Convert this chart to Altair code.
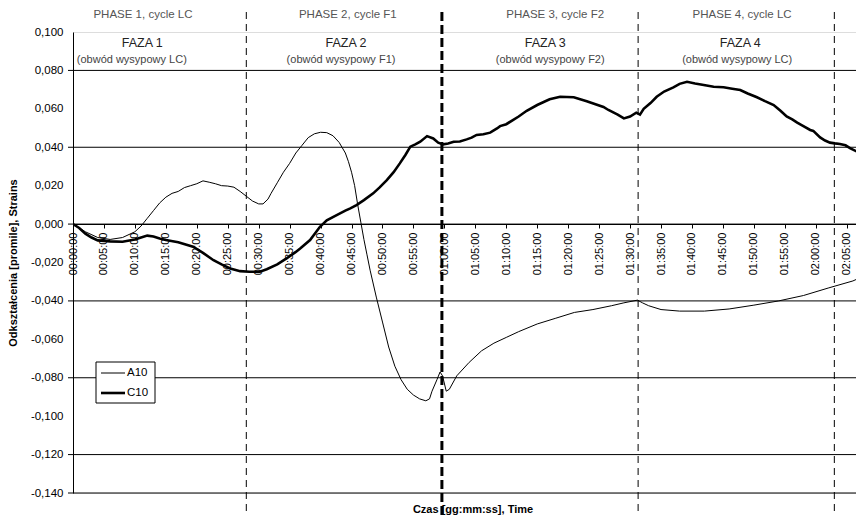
import altair as alt
import pandas as pd

# ---------------- data ----------------
a10_t = [0, 2, 4, 6, 8, 10, 11, 12, 13, 14, 15, 16, 17, 18, 19, 20, 21, 22, 23, 24, 25, 26, 27, 28, 29, 30,
         30.7, 31.5, 32, 33, 34, 35, 36, 37, 38, 39, 40, 41, 42, 43, 44, 44.5, 45, 45.5, 46, 46.5, 47, 47.5, 48,
         49, 50, 51, 52, 53, 54, 55, 56, 57, 57.6, 58, 58.8, 59.3, 59.7, 60.3, 60.8, 62, 64, 66, 68, 70, 72,
         75, 78, 81, 84, 87, 89, 91.2, 92, 93, 95, 98, 102, 106, 110, 114, 118, 122, 126, 127.8]
a10_v = [0, -0.004, -0.007, -0.008, -0.007, -0.004, -0.001, 0.003, 0.007, 0.011, 0.014, 0.016, 0.017, 0.019,
         0.020, 0.021, 0.0225, 0.0218, 0.021, 0.020, 0.0198, 0.0192, 0.017, 0.0145, 0.012, 0.0105,
         0.0105, 0.013, 0.016, 0.0215, 0.027, 0.0316, 0.037, 0.041, 0.045, 0.047, 0.0478, 0.0476, 0.046, 0.0425,
         0.037, 0.0325, 0.027, 0.02, 0.01, 0.001, -0.008, -0.016, -0.024,
         -0.038, -0.051, -0.064, -0.074, -0.081, -0.086, -0.089, -0.091, -0.092, -0.091, -0.087, -0.081, -0.077,
         -0.079, -0.087, -0.086, -0.079, -0.072, -0.066, -0.062, -0.059, -0.056,
         -0.052, -0.049, -0.046, -0.0445, -0.0425, -0.041, -0.0396, -0.041, -0.0425, -0.0445, -0.0453,
         -0.0453, -0.0442, -0.0422, -0.040, -0.0372, -0.0333, -0.0296, -0.027]

c10_t = [0, 1, 2, 3, 4, 6, 8, 10, 11, 12, 13, 14, 15, 17, 19.4, 21, 22.7, 24, 25.4, 27, 28.5, 30.2, 31.3, 33,
         34.5, 36, 36.7, 38.3, 39.9, 41, 42.6, 44, 44.8, 45.8, 47, 48.5, 49.5, 50.7, 51.8, 52.8, 53.7, 54.5,
         55.3, 56.1, 57.2, 58.2, 59, 59.8, 60.6, 61.5, 62.5, 63.6, 64.4, 65.2, 66.3, 67.4, 68.5, 69, 70, 71, 72,
         73.3, 75, 77, 78.7, 80.9, 83, 85.7, 86.5, 88, 89, 90, 91, 91.6, 92.2, 93.3, 94.3, 95.5, 97, 98, 99.2,
         100.5, 101.9, 103.5, 105.1, 106.5, 107.8, 109, 110.5, 111.8, 113.2, 114.3, 115.3, 116.2, 117, 118,
         119.1, 119.6, 120.7, 121.5, 122.3, 123.1, 123.9, 124.8, 125.6, 126.5, 127.7]
c10_v = [0, -0.002, -0.005, -0.007, -0.0085, -0.009, -0.0092, -0.008, -0.007, -0.006, -0.0065, -0.0075,
         -0.0083, -0.0095, -0.0118, -0.015, -0.0188, -0.021, -0.0231, -0.0245, -0.0248, -0.0248, -0.0235,
         -0.021, -0.0179, -0.0145, -0.0127, -0.0083, -0.0014, 0.002, 0.0047, 0.007, 0.0082, 0.0099, 0.0125,
         0.016, 0.019, 0.0229, 0.027, 0.0316, 0.036, 0.0403, 0.0415, 0.0429, 0.0458, 0.0446, 0.0424, 0.0415,
         0.042, 0.0429, 0.043, 0.0441, 0.045, 0.0464, 0.0468, 0.0476, 0.0498, 0.051, 0.052, 0.054, 0.056,
         0.059, 0.062, 0.065, 0.0663, 0.066, 0.064, 0.061, 0.0594, 0.057, 0.055, 0.056, 0.058, 0.057, 0.060,
         0.063, 0.0663, 0.069, 0.0712, 0.073, 0.0741, 0.0732, 0.0724, 0.0715, 0.0712, 0.0705, 0.0698, 0.068,
         0.066, 0.064, 0.062, 0.059, 0.056, 0.0545, 0.0528, 0.051, 0.049, 0.0485, 0.0451, 0.0435, 0.0424,
         0.042, 0.0417, 0.041, 0.0394, 0.038, 0.0368]

series_names = ["A10", "C10"]
series_widths = [1.0, 2.6]

y_ticks = [0.1, 0.08, 0.06, 0.04, 0.02, 0.0, -0.02, -0.04, -0.06, -0.08, -0.1, -0.12, -0.14]
x_ticks = [0, 5, 10, 15, 20, 25, 30, 35, 40, 45, 50, 55, 60, 65, 70, 75, 80, 85, 90, 95, 100, 105, 110, 115,
           120, 125]
grid_values = [0.08, 0.04, 0.0, -0.04, -0.08, -0.12, -0.14]

phase_bounds_thin = [28, 91.3, 123]
phase_bounds_thick = [59.6]

phase_header = ["PHASE 1, cycle LC", "PHASE 2, cycle F1", "PHASE 3, cycle F2", "PHASE 4, cycle LC"]
phase_name = ["FAZA 1", "FAZA 2", "FAZA 3", "FAZA 4"]
phase_sub = ["(obwód wysypowy LC)", "(obwód wysypowy F1)", "(obwód wysypowy F2)", "(obwód wysypowy LC)"]
header_t = [11.3, 44.4, 77.9, 108.1]
name_t = [11.2, 44.1, 76.3, 107.8]
sub_t = [9.5, 43.3, 77.1, 107.3]

# ---------------- layout ----------------
W, H = 783, 461
XMAX = 126.5
FONT = "Liberation Sans"

assert len(a10_t) == len(a10_v) and len(c10_t) == len(c10_v)

df = pd.concat([
    pd.DataFrame({"t": a10_t, "v": a10_v, "series": "A10"}),
    pd.DataFrame({"t": c10_t, "v": c10_v, "series": "C10"}),
])

xs = alt.Scale(domain=[0, XMAX], nice=False, zero=False)
ys = alt.Scale(domain=[-0.14, 0.1], nice=False, zero=False)

x_axis = alt.Axis(
    values=x_ticks, labelExpr="utcFormat(datum.value * 60000, '%H:%M:%S')",
    labelAngle=-90, offset=-(H - 192), title=None, grid=False, tickSize=4,
    tickColor="black", domainColor="black", labelFontSize=11, labelColor="black",
    labelPadding=4, labelFlush=False, labelOverlap=False, labelBound=False, labelFont=FONT)
y_axis = alt.Axis(
    values=y_ticks,
    labelExpr="replace(replace(format(datum.value, '.3f'), '.', ','), '\u2212', '-')",
    title="Odkształcenia [promile], Strains", grid=False, ticks=False, tickSize=0,
    labelPadding=10, domainColor="black", labelFontSize=11.5, labelColor="black",
    labelFont=FONT, titleFont=FONT, titleFontSize=11, titleFontWeight="bold",
    titleColor="black", titleX=-60, titleY=H / 2, titleAlign="center",
    titleBaseline="middle", labelOverlap=False, labelBound=False)

X = alt.X("t:Q", scale=xs, axis=x_axis)
Y = alt.Y("v:Q", scale=ys, axis=y_axis)

lines = alt.Chart(df).mark_line(clip=True, color="black").encode(
    x=X, y=Y,
    strokeWidth=alt.StrokeWidth("series:N",
                                scale=alt.Scale(domain=series_names, range=series_widths),
                                legend=None),
)

grid = alt.Chart(pd.DataFrame({"v": grid_values})).mark_rule(color="black", strokeWidth=1).encode(
    y=Y, x=alt.value(-5), x2=alt.value(W),
)

vthin = alt.Chart(pd.DataFrame({"t": phase_bounds_thin})).mark_rule(
    color="black", strokeWidth=1, strokeDash=[7, 5]).encode(
    x=X, y=alt.value(-20), y2=alt.value(H + 22))

vthick = alt.Chart(pd.DataFrame({"t": phase_bounds_thick})).mark_rule(
    color="black", strokeWidth=3, strokeDash=[9, 4]).encode(
    x=X, y=alt.value(-20), y2=alt.value(H + 22))

t_header = alt.Chart(pd.DataFrame({"t": header_t, "s": phase_header})).mark_text(
    font=FONT, fontSize=11.5, color="#555555", baseline="middle").encode(
    x=X, y=alt.value(-17), text="s:N")
t_name = alt.Chart(pd.DataFrame({"t": name_t, "s": phase_name})).mark_text(
    font=FONT, fontSize=12.5, color="#222222", baseline="middle").encode(
    x=X, y=alt.value(11), text="s:N")
t_sub = alt.Chart(pd.DataFrame({"t": sub_t, "s": phase_sub})).mark_text(
    font=FONT, fontSize=11, color="#444444", baseline="middle").encode(
    x=X, y=alt.value(28), text="s:N")

x_title = alt.Chart(pd.DataFrame({"s": ["Czas [gg:mm:ss], Time"]})).mark_text(
    font=FONT, fontSize=11, fontWeight="bold", color="black", baseline="middle").encode(
    x=alt.value(400), y=alt.value(H + 17), text="s:N")

# legend (box with two line samples)
leg_box = alt.Chart(pd.DataFrame({"k": [0]})).mark_rect(
    fill="white", stroke="black", strokeWidth=1).encode(
    x=alt.value(23), x2=alt.value(82), y=alt.value(330), y2=alt.value(371))
leg_a = alt.Chart(pd.DataFrame({"k": [0]})).mark_rule(color="black", strokeWidth=series_widths[0]).encode(
    x=alt.value(28), x2=alt.value(52), y=alt.value(341))
leg_c = alt.Chart(pd.DataFrame({"k": [0]})).mark_rule(color="black", strokeWidth=series_widths[1]).encode(
    x=alt.value(28), x2=alt.value(52), y=alt.value(361))
leg_ta = alt.Chart(pd.DataFrame({"s": [series_names[0]]})).mark_text(
    font=FONT, fontSize=11.5, align="left", baseline="middle", color="black").encode(
    x=alt.value(54), y=alt.value(341), text="s:N")
leg_tc = alt.Chart(pd.DataFrame({"s": [series_names[1]]})).mark_text(
    font=FONT, fontSize=11.5, align="left", baseline="middle", color="black").encode(
    x=alt.value(54), y=alt.value(361), text="s:N")

chart = alt.layer(
    grid, vthin, vthick, lines, t_header, t_name, t_sub, x_title,
    leg_box, leg_a, leg_c, leg_ta, leg_tc,
).properties(
    width=W, height=H,
    autosize=alt.AutoSizeParams(type="none"),
    padding={"left": 65, "top": 24, "right": 0, "bottom": 23},
).configure_view(stroke=None).configure_axis(
    labelOverlap=False, labelFlush=False, labelBound=False
).configure(font=FONT, background="white")

chart.save("out.html", embed_options={"renderer": "svg", "actions": False})
